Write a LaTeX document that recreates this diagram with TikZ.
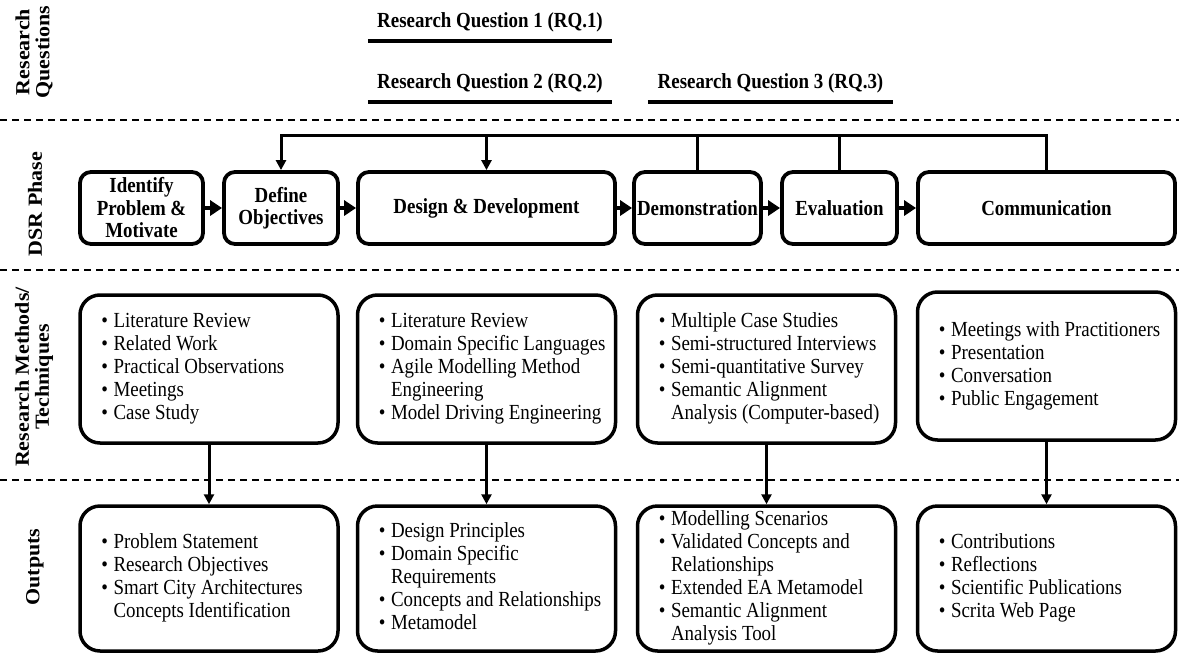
\documentclass[tikz,border=0pt]{standalone}
\usepackage{fontspec}
\setmainfont{Liberation Serif}[FakeStretch=0.88]
\newfontfamily\sidefont{Liberation Serif}[FakeStretch=1.1]
\usetikzlibrary{arrows.meta,calc}
\begin{document}
\begin{tikzpicture}[x=1pt,y=-1pt,
  every node/.style={font=\fontsize{21.5}{23}\selectfont, inner sep=0pt},
  phase/.style={draw, line width=3.8pt, rounded corners=11pt, minimum height=72pt,
                align=center, font=\fontsize{21.5}{22.5}\selectfont\bfseries},
  card/.style={draw, line width=3.5pt, rounded corners=20pt, minimum width=258pt},
  items/.style={anchor=west, align=left, xshift=23pt},
  rowlabel/.style={rotate=90, align=center, font=\sidefont\fontsize{20}{20}\selectfont\bfseries},
  rq/.style={font=\fontsize{21.5}{23}\selectfont\bfseries, minimum height=38pt},
  sep/.style={line width=1.4pt, dash pattern=on 7pt off 5pt},
  uline/.style={line width=4pt},
  flow/.style={line width=4.5pt, -{Triangle[length=12pt,width=15pt]}},
  feed/.style={line width=3pt},
  drop/.style={line width=3pt, -{Triangle[length=10pt,width=10pt]}},
]
\useasboundingbox (0,0) rectangle (1179,654);

% ---- row labels ----
\node[rowlabel] (lrq) at (34,52)  {Research\\Questions};
\node[rowlabel] (ldsr) at (35,204) {DSR Phase};
\node[rowlabel] (lrm) at (34,377) {Research Methods/\\Techniques};
\node[rowlabel] (lout) at (35,567) {Outputs};

% ---- row separators ----
\draw[sep] (0,120) -- (1179,120);
\draw[sep] (0,270) -- (1179,270);
\draw[sep] (0,480) -- (1179,480);

% ---- research questions ----
\node[rq, minimum width=244pt] (rq1) at (490,22) {Research Question 1 (RQ.1)};
\node[rq, minimum width=244pt] (rq2) at (490,83) {Research Question 2 (RQ.2)};
\node[rq, minimum width=245pt] (rq3) at (770.5,83) {Research Question 3 (RQ.3)};
\foreach \q in {rq1,rq2,rq3}
  \draw[uline] (\q.south west) -- (\q.south east);

% ---- DSR phases ----
\node[phase, minimum width=123pt] (idp) at (141.5,208) {Identify\\Problem \&\\Motivate};
\node[phase, minimum width=114pt] (dob) at (281,208)   {Define\\Objectives};
\node[phase, minimum width=257pt] (dd)  at (486.5,208) {Design \& Development};
\node[phase, minimum width=127pt] (dem) at (697.5,208) {Demonstration};
\node[phase, minimum width=115pt] (ev)  at (839.5,208) {Evaluation};
\node[phase, minimum width=257pt] (com) at (1046.5,208) {Communication};

\draw[flow] (idp.east) -- (dob.west);
\draw[flow] (dob.east) -- (dd.west);
\draw[flow] (dd.east)  -- (dem.west);
\draw[flow] (dem.east) -- (ev.west);
\draw[flow] (ev.east)  -- (com.west);

% feedback bar above the phases
\coordinate (bar) at (0,135);
\draw[feed, -{Triangle[length=10pt,width=10pt]}]
  (com.north) |- (dob.north |- bar) -- (dob.north);
\draw[feed, -{Triangle[length=10pt,width=10pt]}] (dd.north |- bar) -- (dd.north);
\draw[feed] (dem.north) -- (dem.north |- bar);
\draw[feed] (ev.north) -- (ev.north |- bar);

% ---- research methods / techniques ----
\node[card, minimum height=148pt] (m1) at (209,369) {};
\node[card, minimum height=148pt] (m2) at (486.5,369) {};
\node[card, minimum height=148pt] (m3) at (766.5,369) {};
\node[card, minimum height=148pt] (m4) at (1046.5,366) {};

\node[items] (m1t) at (m1.west) {\begin{tabular}{@{}l@{\hspace{5.5pt}}l@{}}
\textbullet & Literature Review\\
\textbullet & Related Work\\
\textbullet & Practical Observations\\
\textbullet & Meetings\\
\textbullet & Case Study
\end{tabular}};
\node[items] (m2t) at (m2.west) {\begin{tabular}{@{}l@{\hspace{5.5pt}}l@{}}
\textbullet & Literature Review\\
\textbullet & Domain Specific Languages\\
\textbullet & Agile Modelling Method\\
 & Engineering\\
\textbullet & Model Driving Engineering
\end{tabular}};
\node[items] (m3t) at (m3.west) {\begin{tabular}{@{}l@{\hspace{5.5pt}}l@{}}
\textbullet & Multiple Case Studies\\
\textbullet & Semi-structured Interviews\\
\textbullet & Semi-quantitative Survey\\
\textbullet & Semantic Alignment\\
 & Analysis (Computer-based)
\end{tabular}};
\node[items] (m4t) at (m4.west) {\begin{tabular}{@{}l@{\hspace{5.5pt}}l@{}}
\textbullet & Meetings with Practitioners\\
\textbullet & Presentation\\
\textbullet & Conversation\\
\textbullet & Public Engagement
\end{tabular}};

% ---- outputs ----
\node[card, minimum height=145pt] (o1) at (209,578.5) {};
\node[card, minimum height=145pt] (o2) at (486.5,578.5) {};
\node[card, minimum height=145pt] (o3) at (766.5,578.5) {};
\node[card, minimum height=145pt] (o4) at (1046.5,578.5) {};

\node[items] (o1t) at (o1.west) {\begin{tabular}{@{}l@{\hspace{5.5pt}}l@{}}
\textbullet & Problem Statement\\
\textbullet & Research Objectives\\
\textbullet & Smart City Architectures\\
 & Concepts Identification
\end{tabular}};
\node[items] (o2t) at (o2.west) {\begin{tabular}{@{}l@{\hspace{5.5pt}}l@{}}
\textbullet & Design Principles\\
\textbullet & Domain Specific\\
 & Requirements\\
\textbullet & Concepts and Relationships\\
\textbullet & Metamodel
\end{tabular}};
\node[items] (o3t) at (o3.west) {\begin{tabular}{@{}l@{\hspace{5.5pt}}l@{}}
\textbullet & Modelling Scenarios\\
\textbullet & Validated Concepts and\\
 & Relationships\\
\textbullet & Extended EA Metamodel\\
\textbullet & Semantic Alignment\\
 & Analysis Tool
\end{tabular}};
\node[items] (o4t) at (o4.west) {\begin{tabular}{@{}l@{\hspace{5.5pt}}l@{}}
\textbullet & Contributions\\
\textbullet & Reflections\\
\textbullet & Scientific Publications\\
\textbullet & Scrita Web Page
\end{tabular}};

% ---- methods feed outputs ----
\draw[drop] (m1.south) -- (o1.north);
\draw[drop] (m2.south) -- (o2.north);
\draw[drop] (m3.south) -- (o3.north);
\draw[drop] (m4.south) -- (o4.north);

\end{tikzpicture}
\end{document}
